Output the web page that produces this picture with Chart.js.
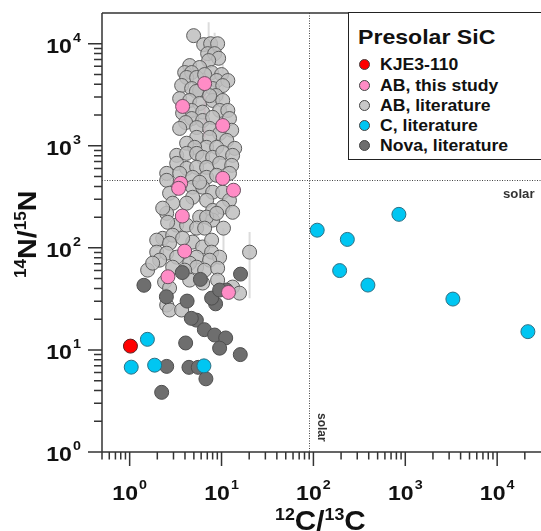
<!DOCTYPE html>
<html>
<head>
<meta charset="utf-8">
<script src="https://cdn.jsdelivr.net/npm/chart.js@4.4.0/dist/chart.umd.min.js"></script>
<style>
  body { margin: 0; background: #fff; }
  #wrap { position: relative; width: 541px; height: 531px; overflow: hidden;
          font-family: "Liberation Sans", Arial, sans-serif; font-weight: bold; color: #111; }
  #chart { position: absolute; left: 0; top: 0; }
  .txt { position: absolute; white-space: nowrap; line-height: 1; transform-origin: 0 0; transform: scaleX(1.1); }
  .txt sup { font-size: 0.6em; vertical-align: 0; position: relative; top: -0.62em; }
  #legendBox { position: absolute; left: 348px; top: 12px; width: 230px; height: 146px;
               border: 1.5px solid #222; background: #fff; }
  .dot { position: absolute; width: 9px; height: 9px; border-radius: 50%; border: 1px solid #444; }
</style>
</head>
<body>
<div id="wrap">
  <canvas id="chart" width="541" height="531"></canvas>

  <div class="txt" id="xTitle" style="font-size:27px;"><sup>12</sup>C/<sup>13</sup>C</div>
  <div class="txt" id="yTitle" style="font-size:26px;"><sup>14</sup>N/<sup>15</sup>N</div>

  <div id="legendBox"></div>
  <div class="txt" style="left:358px; top:26px; font-size:21px;">Presolar SiC</div>
  <div id="legendItems"></div>
</div>

<script>
// ---- data (12C/13C, 14N/15N) ----
const kje3 = [[1.02, 10.9]];

const abThisStudy = [
  [6.55, 4070], [3.77, 2430], [10.3, 1580], [3.59, 429], [3.41, 383], [10.3, 480],
  [13.5, 367], [3.74, 205], [3.97, 92.9], [2.61, 52.1], [11.9, 36.6]
];

const abLiterature = [
  [4.97, 12000], [6.39, 9800], [7.61, 10000], [9.07, 10000], [7.06, 8000], [8.41, 8000], [9.30, 7200], [7.24, 6840],
  [4.50, 6110], [5.78, 5850], [3.97, 5220], [4.73, 5220], [7.80, 5220], [10.0, 4990],
  [4.17, 4670], [5.36, 4670], [6.55, 4990], [8.85, 4360], [11.7, 4360],
  [3.68, 3900], [4.73, 3640], [8.00, 3640], [10.3, 3890], [5.78, 3480], [5.33, 3410], [8.70, 3110],
  [3.50, 2900], [4.50, 2780], [5.78, 2600], [8.00, 2780], [10.3, 2780], [7.42, 3100],
  [3.77, 2090], [4.73, 2220], [6.23, 2140], [9.53, 2220], [11.7, 2220],
  [4.73, 1850], [6.23, 1770], [8.00, 1900], [12.2, 1850], [4.07, 1690],
  [3.50, 1480], [5.36, 1510], [7.42, 1480], [9.53, 1320], [12.9, 1420],
  [5.36, 1210], [7.42, 1210], [4.17, 1060], [11.4, 1130],
  [6.88, 966], [8.85, 966], [5.10, 966], [13.9, 944],
  [3.25, 806], [4.17, 843], [5.36, 843], [6.23, 771], [8.00, 771], [10.3, 861], [13.2, 806],
  [3.25, 673], [4.17, 601], [5.36, 615], [6.88, 615], [9.53, 673], [12.9, 643],
  [2.53, 537], [3.50, 537], [4.85, 491], [6.88, 491], [8.85, 514], [12.2, 537],
  [2.53, 459], [4.85, 393], [6.23, 393], [8.00, 351], [10.3, 351], [5.78, 439],
  [2.72, 343], [4.85, 313], [6.88, 292], [4.17, 274], [2.94, 274], [12.2, 292],
  [2.53, 218], [2.29, 245], [5.78, 200], [8.00, 233], [10.3, 250], [13.2, 223], [8.00, 187], [6.88, 200], [8.85, 218],
  [3.25, 167], [4.17, 167], [5.36, 156], [6.55, 156], [10.5, 156], [2.59, 178],
  [2.29, 124], [2.94, 133], [1.97, 119], [2.72, 111], [4.85, 114], [6.23, 102], [3.77, 124], [7.80, 119],
  [1.97, 90.8], [2.53, 88.7], [3.25, 81.1], [5.36, 81.1], [7.80, 90.8], [9.53, 81.1], [7.42, 75.8], [4.50, 70.8], [2.12, 75.8], [20.2, 90.8],
  [5.36, 64.7], [1.57, 60.5], [1.78, 70.8], [2.94, 64.7], [6.55, 60.5], [9.07, 63.2], [3.97, 60.5],
  [2.40, 46.2], [2.72, 40.4], [6.23, 45.2], [9.07, 48.3], [13.2, 41.3], [15.7, 36.0], [4.50, 48.3],
  [2.53, 27.5], [2.72, 24.6], [3.68, 24.6]
];

const cLiterature = [
  [110, 149], [234, 121], [852, 213], [193, 59.9], [392, 43.2], [3296, 31.5], [21600, 15.1],
  [1.56, 12.7], [1.04, 6.78], [1.87, 7.09], [6.43, 6.98]
];

const novaLiterature = [
  [1.43, 43.0], [2.51, 33.2], [4.22, 30.1], [3.74, 57.3], [5.89, 49.1], [8.62, 28.3], [7.80, 32.2],
  [16.1, 55.3], [11.3, 38.6], [9.53, 38.6], [5.32, 19.6], [4.69, 20.4], [6.50, 15.8], [8.41, 14.0],
  [11.1, 13.1], [9.53, 10.4], [16.0, 9.0], [4.07, 11.7], [2.53, 6.90], [4.42, 6.75], [5.58, 6.75],
  [6.76, 5.21], [2.23, 3.84]
];

// error bars: [x, yLow, yHigh]
const abLitErrors = [[7.24, 6400, 16200], [8.41, 9800, 12800], [10.3, 2780, 6400], [10.5, 68, 156], [20.2, 32, 143]];
const abThisErrors = [[6.55, 1210, 7150]];

const solarC = 89;
const solarN = 459;

const legendItems = [
  ['KJE3-110', '#ff0000'],
  ['AB, this study', '#ff8cc6'],
  ['AB, literature', '#c8c8c8'],
  ['C, literature', '#00c6f2'],
  ['Nova, literature', '#6e6e6e']
];

const FONT = '"Liberation Sans", Arial, sans-serif';
const toXY = arr => arr.map(([x, y]) => ({ x, y }));

// legend (html)
const li = document.getElementById('legendItems');
legendItems.forEach(([name, col], i) => {
  const base = [70, 91, 111, 131, 151][i];
  li.innerHTML += `<div class="dot" style="left:359px; top:${base - 11}px; background:${col};"></div>` +
    `<div class="txt" style="left:380px; top:${base - 13.5}px; font-size:16px;">${name}</div>`;
});

// axis titles
const xt = document.getElementById('xTitle');
xt.style.left = (321 - xt.offsetWidth * 1.1 / 2) + 'px';
xt.style.top = (531 - 23) + 'px';
const yt = document.getElementById('yTitle');
yt.style.transformOrigin = '0 0';
yt.style.transform = 'rotate(-90deg) scaleX(1.1)';
yt.style.left = (36 - 22) + 'px';
yt.style.top = (234 + yt.offsetWidth * 1.1 / 2) + 'px';

function logTicks(scale) {
  const out = [];
  const lo = Math.floor(Math.log10(scale.min)), hi = Math.ceil(Math.log10(scale.max));
  for (let e = lo; e <= hi; e++) {
    for (let m = 1; m < 10; m++) {
      const v = m * Math.pow(10, e);
      if (v >= scale.min * 0.999 && v < scale.max * 0.999) out.push({ v, major: m === 1, e });
    }
  }
  return out;
}

function powLabel(ctx, e, x, y, align) {
  ctx.font = `bold 21px ${FONT}`;
  const wBase = ctx.measureText('10').width;
  ctx.font = `bold 13px ${FONT}`;
  const wExp = ctx.measureText(String(e)).width;
  const total = (wBase + 1 + wExp) * 1.1;
  const x0 = align === 'center' ? x - total / 2 : x - total;
  ctx.save();
  ctx.translate(x0, y);
  ctx.scale(1.1, 1);
  ctx.fillStyle = '#111';
  ctx.textAlign = 'left';
  ctx.textBaseline = 'alphabetic';
  ctx.font = `bold 21px ${FONT}`;
  ctx.fillText('10', 0, 0);
  ctx.font = `bold 13px ${FONT}`;
  ctx.fillText(String(e), wBase + 1, -11.5);
  ctx.restore();
}

const decor = {
  id: 'decor',
  beforeDatasetsDraw(chart) {
    const { ctx, chartArea: a, scales: { x, y } } = chart;
    ctx.save();
    // solar lines
    ctx.strokeStyle = '#444';
    ctx.lineWidth = 1;
    ctx.setLineDash([1, 1.5]);
    const sx = Math.round(x.getPixelForValue(solarC)) + 0.5;
    const sy = Math.round(y.getPixelForValue(solarN)) + 0.5;
    ctx.beginPath();
    ctx.moveTo(sx, a.top); ctx.lineTo(sx, a.bottom);
    ctx.moveTo(a.left, sy); ctx.lineTo(a.right, sy);
    ctx.stroke();
    ctx.setLineDash([]);
    // error bars
    ctx.lineWidth = 2;
    const bars = (list, col) => {
      ctx.strokeStyle = col;
      ctx.beginPath();
      list.forEach(([vx, lo, hi]) => {
        const px = x.getPixelForValue(vx);
        ctx.moveTo(px, y.getPixelForValue(lo));
        ctx.lineTo(px, y.getPixelForValue(hi));
      });
      ctx.stroke();
    };
    bars(abLitErrors, '#dcdcdc');
    bars(abThisErrors, '#f4a3cb');
    ctx.restore();
  },
  afterDraw(chart) {
    const { ctx, chartArea: a, scales: { x, y } } = chart;
    ctx.save();
    ctx.strokeStyle = '#333';
    ctx.lineWidth = 1.5;
    ctx.beginPath();
    ctx.moveTo(a.left, a.top); ctx.lineTo(a.left, a.bottom);
    ctx.moveTo(a.left, a.bottom); ctx.lineTo(a.right, a.bottom);
    ctx.moveTo(a.left, a.top); ctx.lineTo(a.right, a.top);
    logTicks(x).forEach(t => {
      const px = x.getPixelForValue(t.v);
      ctx.moveTo(px, a.bottom);
      ctx.lineTo(px, a.bottom + (t.major ? 14 : 7.5));
    });
    logTicks(y).forEach(t => {
      const py = y.getPixelForValue(t.v);
      ctx.moveTo(a.left, py);
      ctx.lineTo(a.left - (t.major ? 14 : 8), py);
    });
    ctx.stroke();
    logTicks(x).filter(t => t.major).forEach(t => powLabel(ctx, t.e, x.getPixelForValue(t.v), 500, 'center'));
    logTicks(y).filter(t => t.major).forEach(t => powLabel(ctx, t.e, 81, y.getPixelForValue(t.v) + 9.4, 'right'));

    // solar labels
    ctx.fillStyle = '#333';
    ctx.font = `bold 12px ${FONT}`;
    ctx.textBaseline = 'alphabetic';
    ctx.save();
    ctx.translate(503, y.getPixelForValue(solarN) + 18);
    ctx.scale(1.1, 1);
    ctx.fillText('solar', 0, 0);
    ctx.restore();
    ctx.save();
    ctx.translate(x.getPixelForValue(solarC) + 9, 413);
    ctx.rotate(Math.PI / 2);
    ctx.fillText('solar', 0, 0);
    ctx.restore();
    ctx.restore();
  }
};

const pointSet = (label, data, fill, border, order) => ({
  label, data: toXY(data), backgroundColor: fill, borderColor: border,
  borderWidth: 1, pointRadius: 7, pointHoverRadius: 7, order
});

new Chart(document.getElementById('chart'), {
  type: 'scatter',
  data: {
    datasets: [
      pointSet('KJE3-110', kje3, '#ff0000', '#5a2020', 0),
      pointSet('AB, this study', abThisStudy, '#ff8cc6', '#6a5060', 2),
      pointSet('AB, literature', abLiterature, 'rgba(190,190,190,0.85)', '#5c5c5c', 4),
      pointSet('C, literature', cLiterature, '#00c6f2', '#2e6f82', 1),
      pointSet('Nova, literature', novaLiterature, '#6e6e6e', '#4e4e4e', 3)
    ]
  },
  options: {
    responsive: false,
    animation: false,
    events: [],
    layout: { autoPadding: false, padding: { left: 102, top: 13, right: 0, bottom: 79 } },
    plugins: { legend: { display: false }, tooltip: { enabled: false } },
    scales: {
      x: {
        type: 'logarithmic', min: 0.5, max: 30000,
        ticks: { display: false }, grid: { display: false, drawTicks: false }, border: { display: false }
      },
      y: {
        type: 'logarithmic', min: 1, max: 20000,
        ticks: { display: false }, grid: { display: false, drawTicks: false }, border: { display: false }
      }
    }
  },
  plugins: [decor]
});
</script>
</body>
</html>
